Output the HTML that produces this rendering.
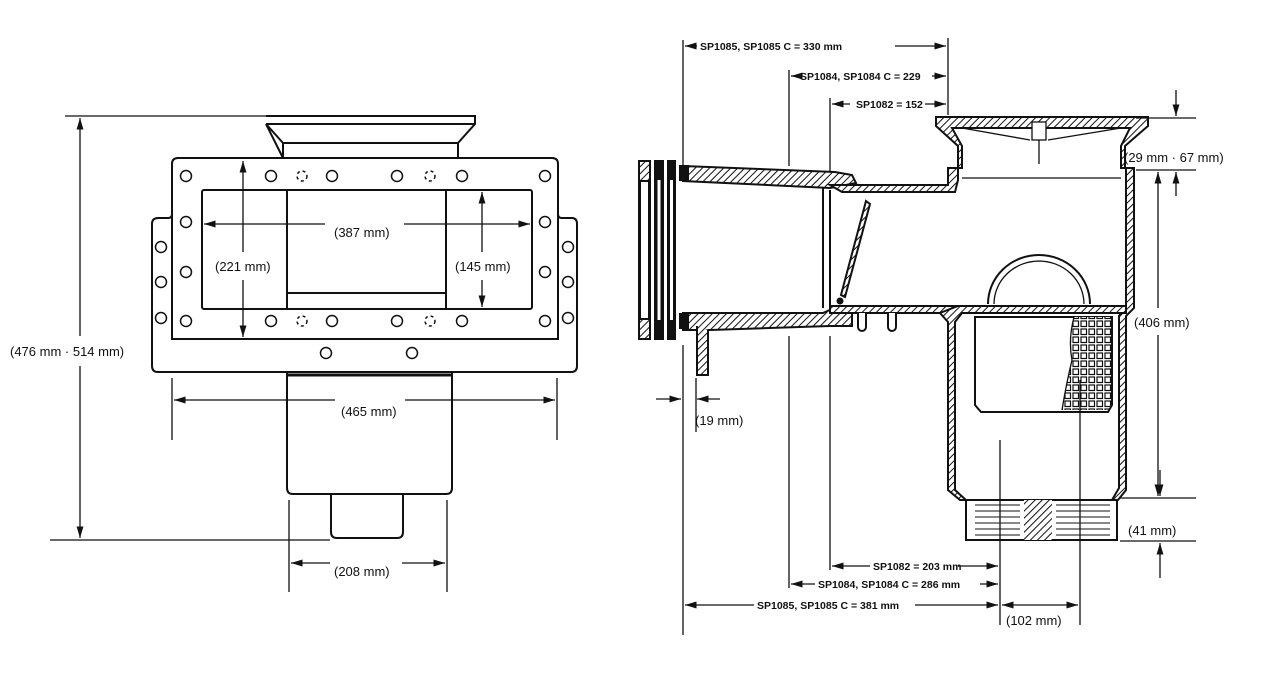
<!DOCTYPE html>
<html><head><meta charset="utf-8"><style>
html,body{margin:0;padding:0;background:#fff;}
svg{display:block;}
text{font-family:"Liberation Sans",sans-serif;fill:#111;}
</style></head><body>
<svg width="1280" height="699" viewBox="0 0 1280 699" xmlns="http://www.w3.org/2000/svg">
<defs>
<pattern id="h" width="5" height="5" patternUnits="userSpaceOnUse" patternTransform="rotate(45)">
<rect width="5" height="5" fill="#fff"/><line x1="0" y1="0" x2="0" y2="5" stroke="#111" stroke-width="2"/></pattern>
<pattern id="g" width="8" height="8" patternUnits="userSpaceOnUse"><rect width="8" height="8" fill="#fff"/><rect x="1" y="1" width="5.5" height="5.5" fill="none" stroke="#111" stroke-width="1.2"/></pattern>
<marker id="a" viewBox="0 0 10 10" refX="10" refY="5" markerWidth="9" markerHeight="9" orient="auto-start-reverse"><path d="M0,2 L10,5 L0,8z" fill="#111"/></marker>
</defs>
<g fill="none" stroke="#111" stroke-width="2">
<!-- LEFT VIEW -->
<path d="M266,116 H475 V124 L458,143 V158 M283,158 V143 L266,124 Z"/>
<line x1="266" y1="124" x2="475" y2="124"/>
<line x1="283" y1="143" x2="458" y2="143"/>
<path d="M178,158 H552 Q558,158 558,164 V214 Q558,218 562,218 H572 Q577,218 577,224 V366 Q577,372 571,372 H158 Q152,372 152,366 V224 Q152,218 158,218 H168 Q172,218 172,214 V164 Q172,158 178,158 Z"/>
<path d="M172,214 V339 H558 V214"/>
<rect x="202" y="190" width="330" height="119" rx="2"/>
<line x1="287" y1="190" x2="287" y2="309"/><line x1="446" y1="190" x2="446" y2="309"/>
<line x1="287" y1="293" x2="446" y2="293"/>
<path d="M287,372 V488 Q287,494 293,494 H446 Q452,494 452,488 V372" />
<line x1="287" y1="375" x2="452" y2="375" stroke-width="3"/>
<path d="M331,494 V532 Q331,538 337,538 H397 Q403,538 403,532 V494"/>
<g stroke-width="1.5">
<circle cx="186" cy="176" r="5.5"/><circle cx="271" cy="176" r="5.5"/><circle cx="332" cy="176" r="5.5"/><circle cx="397" cy="176" r="5.5"/><circle cx="462" cy="176" r="5.5"/><circle cx="545" cy="176" r="5.5"/>
<circle cx="186" cy="222" r="5.5"/><circle cx="186" cy="272" r="5.5"/><circle cx="186" cy="321" r="5.5"/>
<circle cx="545" cy="222" r="5.5"/><circle cx="545" cy="272" r="5.5"/><circle cx="545" cy="321" r="5.5"/>
<circle cx="161" cy="247" r="5.5"/><circle cx="161" cy="282" r="5.5"/><circle cx="161" cy="318" r="5.5"/>
<circle cx="568" cy="247" r="5.5"/><circle cx="568" cy="282" r="5.5"/><circle cx="568" cy="318" r="5.5"/>
<circle cx="271" cy="321" r="5.5"/><circle cx="332" cy="321" r="5.5"/><circle cx="397" cy="321" r="5.5"/><circle cx="462" cy="321" r="5.5"/>
<circle cx="326" cy="353" r="5.5"/><circle cx="412" cy="353" r="5.5"/>
<circle cx="302" cy="176" r="5" stroke-dasharray="3,3"/><circle cx="430" cy="176" r="5" stroke-dasharray="3,3"/>
<circle cx="302" cy="321" r="5" stroke-dasharray="3,3"/><circle cx="430" cy="321" r="5" stroke-dasharray="3,3"/>
</g>
<!-- left dims -->
<g stroke-width="1.3">
<line x1="65" y1="116" x2="330" y2="116"/><line x1="50" y1="540" x2="330" y2="540"/>
<line x1="80" y1="118" x2="80" y2="336" marker-start="url(#a)"/><line x1="80" y1="366" x2="80" y2="538" marker-end="url(#a)"/>
<line x1="172" y1="378" x2="172" y2="440"/><line x1="557" y1="378" x2="557" y2="440"/>
<line x1="174" y1="400" x2="335" y2="400" marker-start="url(#a)"/><line x1="405" y1="400" x2="555" y2="400" marker-end="url(#a)"/>
<line x1="289" y1="500" x2="289" y2="592"/><line x1="447" y1="500" x2="447" y2="592"/>
<line x1="291" y1="563" x2="330" y2="563" marker-start="url(#a)"/><line x1="402" y1="563" x2="445" y2="563" marker-end="url(#a)"/>
<line x1="204" y1="224" x2="325" y2="224" marker-start="url(#a)"/><line x1="404" y1="224" x2="530" y2="224" marker-end="url(#a)"/>
<line x1="243" y1="161" x2="243" y2="252" marker-start="url(#a)"/><line x1="243" y1="280" x2="243" y2="337" marker-end="url(#a)"/>
<line x1="482" y1="192" x2="482" y2="252" marker-start="url(#a)"/><line x1="482" y1="280" x2="482" y2="307" marker-end="url(#a)"/>
</g>
</g>
<g font-size="13">
<text x="10" y="356">(476 mm · 514 mm)</text>
<text x="341" y="416">(465 mm)</text>
<text x="334" y="576">(208 mm)</text>
<text x="334" y="237">(387 mm)</text>
<text x="215" y="271">(221 mm)</text>
<text x="455" y="271">(145 mm)</text>
<text x="695" y="425">(19 mm)</text>
<text x="1124" y="162">(29 mm · 67 mm)</text>
<text x="1134" y="327">(406 mm)</text>
<text x="1128" y="535">(41 mm)</text>
<text x="1006" y="625">(102 mm)</text>
</g>
<g font-size="10.5" font-weight="bold">
<text x="700" y="50">SP1085, SP1085 C = 330 mm</text>
<text x="800" y="80">SP1084, SP1084 C = 229</text>
<text x="856" y="108">SP1082 = 152</text>
<text x="873" y="570">SP1082 = 203 mm</text>
<text x="818" y="588">SP1084, SP1084 C = 286 mm</text>
<text x="757" y="609">SP1085, SP1085 C = 381 mm</text>
</g>
<!-- RIGHT VIEW -->
<g stroke="#111" stroke-width="2">
<rect x="639" y="161" width="11" height="178" fill="url(#h)"/>
<rect x="640" y="181" width="9" height="138" fill="#fff"/>
<rect x="655" y="161" width="8" height="178" fill="#111"/>
<rect x="668" y="161" width="7" height="178" fill="#111"/>
<rect x="657.5" y="180" width="3" height="140" fill="#fff" stroke="none"/>
<rect x="670" y="180" width="3" height="140" fill="#fff" stroke="none"/>
<!-- pipe -->
<path d="M683,166 L835,172 L852,175 L856,183 L830,188 L683,181 Z" fill="url(#h)"/>
<path d="M683,313 L823,313 L834,308 L852,313 L852,326 L830,326 L710,330 L683,330 Z" fill="url(#h)"/>
<rect x="680" y="166" width="8" height="14" fill="#111"/><rect x="680" y="314" width="8" height="14" fill="#111"/>
<path d="M697,326 V375 H708 V330" fill="url(#h)"/>
<line x1="823" y1="188" x2="823" y2="308" fill="none"/>
<line x1="830" y1="190" x2="830" y2="305" fill="none"/>
<!-- channel -->
<path d="M830,185 H948 V168 H958 V180 L955,192 H842 Z" fill="url(#h)"/>
<path d="M830,306 H968 V313 H830 Z" fill="url(#h)"/>
<path d="M858,313 v14 a4,4 0 0 0 8,0 v-14 M888,313 v14 a4,4 0 0 0 8,0 v-14" fill="#fff"/>
<!-- flap -->
<path d="M866,201 L870,204 L845,297 L841,295 Z" fill="url(#h)"/>
<circle cx="840" cy="301" r="2.5" fill="#111"/>
<!-- collar -->
<path d="M936,117 H1148 V126 L1125,146 V168 H1121 V146 L1130,128 H952 L962,146 V168 H958 V146 L936,126 Z" fill="url(#h)"/>
<path d="M962,128 L1030,140 M1121,128 L1048,140" fill="none" stroke-width="1.3"/>
<rect x="1032" y="122" width="14" height="18" fill="#fff" stroke-width="1.3"/>
<line x1="1039" y1="140" x2="1039" y2="164" stroke-width="1.3"/>
<line x1="962" y1="178" x2="1121" y2="178" stroke-width="1.3"/>
<!-- right wall and housing -->
<path d="M1126,168 H1134 V308 L1126,316 V490 L1118,500 H1112 L1119,488 V316 L1126,306 Z" fill="url(#h)"/>
<path d="M958,306 H1126 V313 H962 L955,322 V490 L966,500 H960 L948,490 V322 L940,313 Z" fill="url(#h)"/>
<path d="M966,500 H1117 V540 H966 Z" fill="#fff"/>
<rect x="1024" y="500" width="28" height="40" fill="url(#h)" stroke="none"/>
<g stroke-width="1.1"><line x1="975" y1="505" x2="1020" y2="505"/><line x1="975" y1="511" x2="1020" y2="511"/><line x1="975" y1="517" x2="1020" y2="517"/><line x1="975" y1="523" x2="1020" y2="523"/><line x1="975" y1="529" x2="1020" y2="529"/><line x1="975" y1="535" x2="1020" y2="535"/>
<line x1="1056" y1="505" x2="1110" y2="505"/><line x1="1056" y1="511" x2="1110" y2="511"/><line x1="1056" y1="517" x2="1110" y2="517"/><line x1="1056" y1="523" x2="1110" y2="523"/><line x1="1056" y1="529" x2="1110" y2="529"/><line x1="1056" y1="535" x2="1110" y2="535"/></g>
<!-- basket -->
<path d="M988,304 A50,48 0 0 1 1090,304" fill="none" stroke-width="2"/>
<path d="M994,304 A44,42 0 0 1 1084,304" fill="none" stroke-width="1.3"/>
<path d="M975,317 H1112 V405 L1108,412 H981 L975,405 Z" fill="#fff"/>
<path d="M1074,317 Q1068,340 1072,360 Q1066,385 1062,410 H1108 L1111,405 V317 Z" fill="url(#g)" stroke="none"/>
<path d="M1074,317 Q1068,340 1072,360 Q1066,385 1062,410" fill="none" stroke-width="1.3"/>
</g>
<!-- right dims -->
<g fill="none" stroke="#111" stroke-width="1.3">
<line x1="683" y1="40" x2="683" y2="165"/><line x1="683" y1="345" x2="683" y2="635"/>
<line x1="948" y1="38" x2="948" y2="115"/>
<line x1="789" y1="70" x2="789" y2="166"/><line x1="789" y1="336" x2="789" y2="588"/>
<line x1="830" y1="98" x2="830" y2="172"/><line x1="830" y1="336" x2="830" y2="570"/>
<line x1="685" y1="46" x2="697" y2="46" marker-start="url(#a)"/><line x1="895" y1="46" x2="946" y2="46" marker-end="url(#a)"/>
<line x1="791" y1="76" x2="797" y2="76" marker-start="url(#a)"/><line x1="932" y1="76" x2="946" y2="76" marker-end="url(#a)"/>
<line x1="832" y1="104" x2="850" y2="104" marker-start="url(#a)"/><line x1="925" y1="104" x2="946" y2="104" marker-end="url(#a)"/>
<line x1="1000" y1="440" x2="1000" y2="625"/><line x1="1080" y1="380" x2="1080" y2="625"/>
<line x1="832" y1="566" x2="870" y2="566" marker-start="url(#a)"/><line x1="958" y1="566" x2="998" y2="566" marker-end="url(#a)"/>
<line x1="791" y1="584" x2="815" y2="584" marker-start="url(#a)"/><line x1="980" y1="584" x2="998" y2="584" marker-end="url(#a)"/>
<line x1="685" y1="605" x2="754" y2="605" marker-start="url(#a)"/><line x1="915" y1="605" x2="998" y2="605" marker-end="url(#a)"/>
<line x1="1002" y1="605" x2="1078" y2="605" marker-start="url(#a)" marker-end="url(#a)"/>
<line x1="656" y1="399" x2="681" y2="399" marker-end="url(#a)"/><line x1="720" y1="399" x2="697" y2="399" marker-end="url(#a)"/>
<line x1="696" y1="378" x2="696" y2="432"/>
<line x1="1136" y1="118" x2="1196" y2="118"/><line x1="1136" y1="170" x2="1196" y2="170"/>
<line x1="1176" y1="90" x2="1176" y2="116" marker-end="url(#a)"/><line x1="1176" y1="196" x2="1176" y2="172" marker-end="url(#a)"/>
<line x1="1158" y1="172" x2="1158" y2="308" marker-start="url(#a)"/><line x1="1158" y1="335" x2="1158" y2="496" marker-end="url(#a)"/>
<line x1="1120" y1="498" x2="1196" y2="498"/><line x1="1120" y1="541" x2="1196" y2="541"/>
<line x1="1160" y1="470" x2="1160" y2="496" marker-end="url(#a)"/><line x1="1160" y1="578" x2="1160" y2="543" marker-end="url(#a)"/>
</g>
</svg>
</body></html>
